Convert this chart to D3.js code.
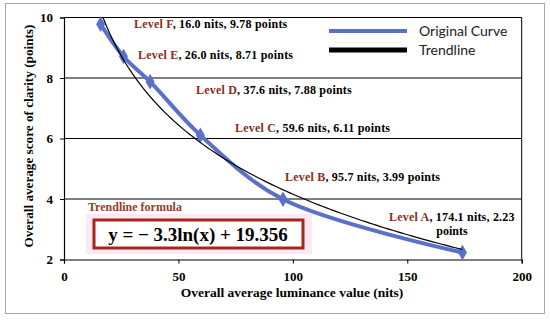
<!DOCTYPE html>
<html><head><meta charset="utf-8">
<script src="https://cdn.jsdelivr.net/npm/d3@7"></script>
<style>body{margin:0;background:#fff}svg{display:block}</style>
</head><body>
<script>
const levels = ["F","E","D","C","B","A"];
const nits = [16.0, 26.0, 37.6, 59.6, 95.7, 174.1];
const points = [9.78, 8.71, 7.88, 6.11, 3.99, 2.23];
const xTicks = [0, 50, 100, 150, 200];
const yTicks = [2, 4, 6, 8, 10];
const trendA = -3.3, trendB = 19.356;
const legendNames = ["Original Curve", "Trendline"];

const W = 550, H = 320;
const svg = d3.select("body").append("svg").attr("width", W).attr("height", H);
const x = d3.scaleLinear().domain([0, 200]).range([64, 521.7]);
const y = d3.scaleLinear().domain([2, 10]).range([259.5, 17.5]);
const serif = "'Liberation Serif','Times New Roman',serif";

// outer frame
svg.append("rect").attr("x", 5.5).attr("y", 3.5).attr("width", 539).attr("height", 310)
  .attr("fill", "#fff").attr("stroke", "#a6a6a6").attr("stroke-width", 1);

// gridlines
svg.append("g").selectAll("line").data(yTicks.filter(d => d > 2)).join("line")
  .attr("x1", x(0)).attr("x2", x(200)).attr("y1", d => y(d)).attr("y2", d => y(d))
  .attr("stroke", "#000").attr("stroke-width", 1);
svg.append("line").attr("x1", x(200)).attr("x2", x(200)).attr("y1", y(10)).attr("y2", y(2))
  .attr("stroke", "#000").attr("stroke-width", 1);

// axes
const xAxis = svg.append("g").attr("transform", `translate(0,${y(2)})`)
  .call(d3.axisBottom(x).tickValues(xTicks).tickSize(4).tickPadding(8));
const yAxis = svg.append("g").attr("transform", `translate(${x(0)},0)`)
  .call(d3.axisLeft(y).tickValues(yTicks).tickSize(4).tickPadding(7));
[xAxis, yAxis].forEach(g => {
  g.select(".domain").attr("stroke", "#000").attr("stroke-width", 1.2);
  g.selectAll(".tick line").attr("stroke", "#000");
  g.selectAll("text").attr("font-family", serif).attr("font-weight", "bold")
    .attr("font-size", 13).attr("fill", "#000");
});

// axis titles
svg.append("text").attr("x", 292).attr("y", 297).attr("text-anchor", "middle")
  .attr("font-family", serif).attr("font-weight", "bold").attr("font-size", 13.5)
  .text("Overall average luminance value (nits)");
svg.append("text").attr("transform", "translate(33,136) rotate(-90)").attr("text-anchor", "middle")
  .attr("font-family", serif).attr("font-weight", "bold").attr("font-size", 13.2)
  .text("Overall average score of clarity (points)");

// trendline formula box
svg.append("rect").attr("x", 86).attr("y", 214).attr("width", 226).attr("height", 40).attr("fill", "#fde8f5");
svg.append("text").attr("x", 88).attr("y", 211).attr("font-family", serif).attr("font-weight", "bold")
  .attr("font-size", 12).attr("fill", "#9b3a2a").text("Trendline  formula");
svg.append("rect").attr("x", 94).attr("y", 220).attr("width", 209).attr("height", 28)
  .attr("fill", "#fff").attr("stroke", "#a5271b").attr("stroke-width", 3);
svg.append("text").attr("x", 198).attr("y", 241).attr("text-anchor", "middle")
  .attr("font-family", serif).attr("font-weight", "bold").attr("font-size", 19)
  .text("y = \u2212 3.3ln(x) + 19.356");

// original curve
const data = nits.map((n, i) => ({n, p: points[i], lvl: levels[i]}));
svg.append("path").datum(data)
  .attr("d", d3.line().x(d => x(d.n)).y(d => y(d.p)).curve(d3.curveCatmullRom))
  .attr("fill", "none").attr("stroke", "#5b70c8").attr("stroke-width", 4);
svg.append("g").selectAll("path").data(data).join("path")
  .attr("transform", d => `translate(${x(d.n)},${y(d.p)})`)
  .attr("d", d3.symbol(d3.symbolDiamond, 70)).attr("fill", "#5b70c8");

// trendline (log curve evaluated on the visible range)
const xStart = Math.exp((10 - trendB) / trendA);
const tl = d3.range(0, 101).map(i => xStart + (nits[nits.length - 1] - xStart) * i / 100);
svg.append("path").datum(tl)
  .attr("d", d3.line().x(d => x(d)).y(d => y(trendA * Math.log(d) + trendB)))
  .attr("fill", "none").attr("stroke", "#000").attr("stroke-width", 1.2);

// labels
const labelPos = {F: [134, 28], E: [138, 59], D: [196, 94], C: [235, 132], B: [285, 181], A: [389, 221]};
data.forEach(d => {
  const [lx, ly] = labelPos[d.lvl];
  const t = svg.append("text").attr("x", lx).attr("y", ly).attr("font-family", serif)
    .attr("font-weight", "bold").attr("font-size", 12).attr("letter-spacing", 0.2);
  t.append("tspan").attr("fill", "#8b2e1e").text(`Level ${d.lvl}`);
  if (d.lvl === "A") {
    t.append("tspan").attr("fill", "#000").text(`, ${d.n.toFixed(1)} nits, ${d.p.toFixed(2)}`);
    svg.append("text").attr("x", 452).attr("y", 235).attr("text-anchor", "middle")
      .attr("font-family", serif).attr("font-weight", "bold").attr("font-size", 12).text("points");
  } else {
    t.append("tspan").attr("fill", "#000").text(`, ${d.n.toFixed(1)} nits, ${d.p.toFixed(2)} points`);
  }
});

// legend
const legColors = ["#5b70c8", "#000"];
legendNames.forEach((name, i) => {
  const ly = 31 + i * 19;
  svg.append("line").attr("x1", 329).attr("x2", 407).attr("y1", ly).attr("y2", ly)
    .attr("stroke", legColors[i]).attr("stroke-width", i === 0 ? 4 : 5);
  svg.append("text").attr("x", 419).attr("y", ly + 5).attr("font-family", "Lato, 'Liberation Sans', sans-serif")
    .attr("font-size", 14).attr("fill", "#222").text(name);
});
</script>
</body></html>
